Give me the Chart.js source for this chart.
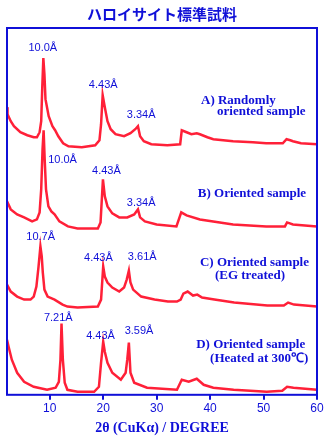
<!DOCTYPE html>
<html>
<head>
<meta charset="utf-8">
<title>ハロイサイト標準試料</title>
<script src="https://cdn.jsdelivr.net/npm/chart.js@4/dist/chart.umd.min.js"></script>
<style>
  html, body { margin: 0; padding: 0; background: #fff; }
  canvas { display: block; }
</style>
</head>
<body>
<canvas id="xrd-chart" width="330" height="440"></canvas>
<script>
'use strict';

// 2theta (deg) and stacked intensity (arbitrary units) for each pattern
var aDeg = [2.0, 2.1, 2.7, 3.3, 4.5, 5.8, 7.0, 7.6, 8.1, 8.4, 8.6, 8.8, 9.0, 9.2, 9.8, 10.5, 11.0, 11.6, 12.5, 13.5, 16.0, 18.5, 19.3, 19.6, 19.9, 20.3, 20.8, 21.4, 22.3, 23.9, 25.1, 26.0, 26.5, 26.9, 27.6, 29.0, 32.0, 34.4, 34.7, 35.6, 36.5, 37.5, 38.1, 39.5, 40.6, 44.3, 48.0, 50.5, 53.6, 54.3, 55.0, 55.5, 57.0, 60.0];
var aInt = [287, 280, 273, 268, 262, 259, 257, 257, 262, 273, 307, 336, 320, 295, 278, 268, 264, 258, 251, 248, 247, 249, 254, 270, 299, 287, 273, 265, 260, 258, 261, 265, 268, 258, 253, 250, 249, 250, 264, 262, 260, 261, 260, 257, 255, 253, 252, 251, 251, 255, 254, 253, 251, 250];

var bDeg = [2.0, 2.7, 3.9, 5.2, 6.7, 7.6, 8.1, 8.4, 8.65, 8.85, 9.05, 9.3, 9.75, 10.3, 10.9, 11.8, 13.4, 15.2, 19.0, 19.5, 19.95, 20.3, 20.8, 21.7, 23.0, 24.5, 25.8, 26.5, 26.9, 27.8, 30.0, 33.7, 34.6, 35.6, 38.1, 44.3, 50.5, 54.0, 54.4, 55.5, 60.0];
var bInt = [193, 185, 180, 177, 173, 175, 182, 205, 245, 264, 235, 205, 188, 183, 180, 173, 168, 166, 166, 172, 215, 198, 188, 181, 177, 177, 180, 185, 177, 173, 170, 168, 182, 179, 175, 170, 168, 168, 172, 170, 168];

var cDeg = [2.0, 2.7, 3.9, 5.2, 6.4, 7.0, 7.5, 7.9, 8.25, 8.5, 8.7, 9.0, 9.6, 10.9, 12.4, 13.3, 15.2, 19.0, 19.6, 20.0, 20.3, 20.8, 21.7, 23.0, 23.9, 24.4, 24.8, 25.1, 25.6, 27.1, 29.6, 32.1, 33.8, 34.5, 35.0, 35.8, 36.8, 37.6, 38.5, 40.8, 44.5, 50.7, 53.8, 54.6, 55.7, 60.0];
var cInt = [110, 103, 98, 95, 95, 98, 108, 128, 148, 138, 122, 105, 98, 95, 90, 88, 87, 88, 95, 128, 118, 112, 107, 103, 107, 115, 124, 112, 105, 98, 95, 93, 93, 95, 101, 103, 99, 100, 97, 95, 92, 89, 89, 92, 90, 88];

var dDeg = [2.0, 2.3, 2.9, 3.9, 5.2, 7.0, 9.5, 11.1, 11.7, 12.0, 12.2, 12.45, 12.8, 13.3, 15.2, 18.3, 19.2, 19.6, 20.0, 20.3, 20.8, 21.7, 23.3, 24.2, 24.5, 24.8, 25.1, 25.8, 28.2, 33.8, 34.7, 36.0, 37.5, 38.8, 40.6, 44.4, 50.6, 53.5, 54.4, 55.6, 60.0];
var dInt = [55, 48, 35, 22, 13, 8, 5, 7, 13, 35, 71, 35, 12, 5, 3, 3, 8, 32, 53, 43, 32, 22, 15, 22, 35, 52, 22, 12, 7, 5, 15, 13, 16, 10, 7, 5, 3, 4, 8, 7, 5];

var xTicks = [10, 20, 30, 40, 50, 60];

// d-spacing labels: text, 2theta, intensity (label centre)
var peakLabels = [
  ['10.0Å', 8.7, 346], ['4.43Å', 20.0, 309.5], ['3.34Å', 27.1, 279],
  ['10.0Å', 12.4, 234], ['4.43Å', 20.6, 223], ['3.34Å', 27.1, 191],
  ['10.7Å', 8.3, 157], ['4.43Å', 19.1, 137], ['3.61Å', 27.3, 138],
  ['7.21Å', 11.6, 76.5], ['4.43Å', 19.5, 59], ['3.59Å', 26.7, 63.5]
];

// sample names: text, 2theta (left edge), intensity (line centre)
var sampleLabels = [
  ['A) Randomly', 38.3, 294], ['oriented sample', 41.3, 282.5],
  ['B) Oriented sample', 37.7, 200.5],
  ['C) Oriented sample', 38.1, 131.5], ['(EG treated)', 40.9, 119],
  ['D) Oriented sample', 37.4, 50.5], ['(Heated at 300℃)', 40.0, 36.5]
];

var BLUE = '#1010d8';
var RED = '#ff2038';

function toPoints(xs, ys) {
  var pts = [];
  xs.forEach(function (x, i) {
    pts.push({ x: x, y: ys[i] });
  });
  return pts;
}

function trace(xs, ys) {
  return {
    data: toPoints(xs, ys),
    borderColor: RED,
    borderWidth: 2.5,
    pointRadius: 0,
    tension: 0
  };
}

var frameAndLabels = {
  id: 'frameAndLabels',
  afterDatasetsDraw: function (chart) {
    var ctx = chart.ctx;
    var area = chart.chartArea;
    var xs = chart.scales.x;
    var ys = chart.scales.y;

    ctx.save();
    ctx.strokeStyle = BLUE;
    ctx.lineWidth = 2;
    ctx.strokeRect(area.left, area.top, area.right - area.left, area.bottom - area.top);

    ctx.fillStyle = BLUE;
    ctx.textBaseline = 'middle';
    ctx.textAlign = 'center';
    ctx.font = '11px "Liberation Sans", Arial, sans-serif';
    peakLabels.forEach(function (l) {
      ctx.fillText(l[0], xs.getPixelForValue(l[1]), ys.getPixelForValue(l[2]));
    });

    ctx.textAlign = 'left';
    ctx.font = 'bold 13px "Liberation Serif", "Times New Roman", serif';
    sampleLabels.forEach(function (l) {
      ctx.fillText(l[0], xs.getPixelForValue(l[1]), ys.getPixelForValue(l[2]));
    });
    ctx.restore();
  }
};

var ctx = document.getElementById('xrd-chart');
var myChart = new Chart(ctx, {
  type: 'line',
  data: {
    datasets: [trace(aDeg, aInt), trace(bDeg, bInt), trace(cDeg, cInt), trace(dDeg, dInt)]
  },
  options: {
    responsive: false,
    animation: false,
    layout: {
      padding: { left: 7, right: 13, top: 0, bottom: 0 }
    },
    plugins: {
      legend: { display: false },
      tooltip: { enabled: false },
      title: {
        display: true,
        text: 'ハロイサイト標準試料',
        color: BLUE,
        font: { family: '"Noto Sans CJK JP", sans-serif', size: 15, weight: 'bold' },
        padding: { top: 5, bottom: 5 }
      }
    },
    scales: {
      x: {
        type: 'linear',
        min: 2,
        max: 60,
        afterBuildTicks: function (scale) {
          scale.ticks = xTicks.map(function (v) { return { value: v }; });
        },
        ticks: {
          color: BLUE,
          padding: 2,
          maxRotation: 0,
          font: { family: '"Liberation Sans", Arial, sans-serif', size: 12 }
        },
        grid: {
          drawOnChartArea: false,
          drawTicks: true,
          tickLength: 5,
          color: BLUE,
          lineWidth: 2
        },
        border: { display: false },
        title: {
          display: true,
          text: '2θ (CuKα) / DEGREE',
          color: BLUE,
          padding: { top: 2, bottom: 3 },
          font: { family: '"Liberation Serif", "Times New Roman", serif', size: 14, weight: 'bold' }
        }
      },
      y: {
        display: false,
        min: 0,
        max: 366
      }
    }
  },
  plugins: [frameAndLabels]
});
</script>
</body>
</html>
